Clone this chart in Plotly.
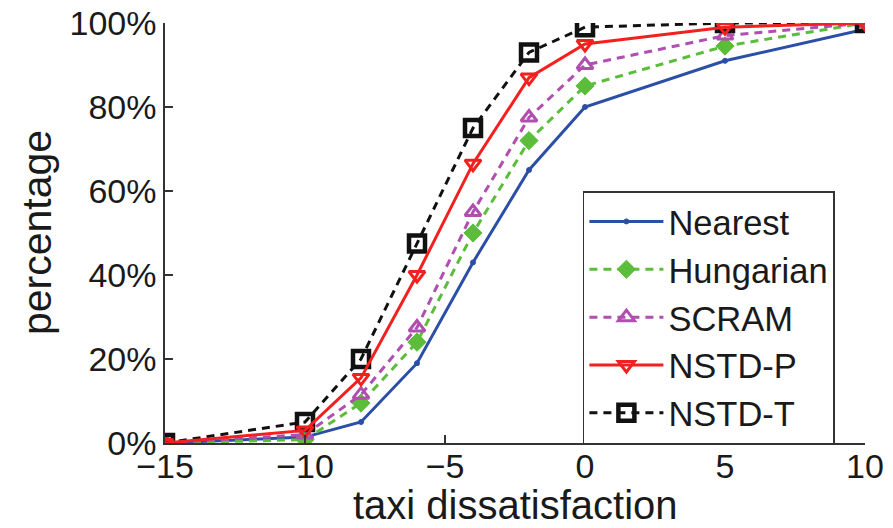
import plotly.graph_objects as go

x_vals = [-15, -10, -8, -6, -4, -2, 0, 5, 10]
nearest = [0, 1.4, 5, 19, 43, 65, 80, 91, 98.5]
hungarian = [0, 0.8, 9.5, 24, 50, 72, 85, 94.5, 100]
scram = [0, 2, 11.5, 27.5, 55, 77.5, 90, 97, 100]
nstd_p = [0, 3, 15.5, 40, 66.5, 87, 95, 99, 100]
nstd_t = [0, 5, 20, 47.5, 75, 93, 99, 100, 100]

x_ticks = [-15, -10, -5, 0, 5, 10]
y_ticks = [0, 20, 40, 60, 80, 100]

FONT = "Liberation Sans, Arial, Helvetica, sans-serif"
TXT = "#1a1a1a"

fig = go.Figure()

series = [
    ("Nearest", nearest, "#2b4fa6", "solid", "circle", 5, 1, 1),
    ("Hungarian", hungarian, "#5cbd3a", "8px,6px", "diamond", 14, 1, 2),
    ("SCRAM", scram, "#b04fb0", "8px,6px", "triangle-up-open", 14, 3, 3),
    ("NSTD-T", nstd_t, "#111111", "8px,6px", "square-open", 16, 4.5, 5),
    ("NSTD-P", nstd_p, "#f2211f", "solid", "triangle-down-open", 14, 3, 4),
]

for name, vals, color, dash, sym, msize, mlw, rank in series:
    fig.add_trace(go.Scatter(
        x=x_vals, y=vals, name=name, mode="lines+markers",
        line=dict(color=color, width=3, dash=dash),
        marker=dict(symbol=sym, size=msize, color=color,
                    line=dict(color=color, width=mlw)),
        legendrank=rank,
    ))

fig.update_layout(
    width=893, height=528,
    margin=dict(l=165, r=28, t=23, b=85),
    paper_bgcolor="white", plot_bgcolor="white",
    font=dict(family=FONT, size=34, color=TXT),
    showlegend=True,
    legend=dict(
        x=0.597, y=0.6, xanchor="left", yanchor="top",
        bordercolor="#333333", borderwidth=1.5,
        bgcolor="white",
        font=dict(family=FONT, size=34.5, color=TXT),
        itemwidth=74,
        tracegroupgap=0,
    ),
    xaxis=dict(
        range=[-15, 10], tickvals=x_ticks, ticktext=[f"{v}".replace("-", "\u2212") for v in x_ticks],
        ticks="inside", ticklen=8, tickwidth=1.5, tickcolor="#333",
        showline=True, linecolor="#333", linewidth=1.5,
        showgrid=False, zeroline=False, mirror=False, automargin=False,
        tickfont=dict(size=34), ticklabelstandoff=-8,
    ),
    yaxis=dict(
        range=[0, 100], tickvals=y_ticks, ticktext=[f"{v}%" for v in y_ticks],
        ticks="inside", ticklen=8, tickwidth=1.5, tickcolor="#333",
        showline=True, linecolor="#333", linewidth=1.5,
        showgrid=False, zeroline=False, mirror=False, automargin=False,
        tickfont=dict(size=34),
    ),
    annotations=[
        dict(text="taxi dissatisfaction", xref="paper", yref="paper",
             x=0.5, y=0, yshift=-62, xanchor="center", yanchor="middle",
             showarrow=False, font=dict(size=40, family=FONT, color=TXT)),
        dict(text="percentage", xref="paper", yref="paper",
             x=0, y=0.5, xshift=-128, xanchor="center", yanchor="middle",
             textangle=-90, showarrow=False,
             font=dict(size=41, family=FONT, color=TXT)),
    ],
)

fig.write_html("out.html", config={"displayModeBar": False},
               post_script="document.body.style.margin='0';")
